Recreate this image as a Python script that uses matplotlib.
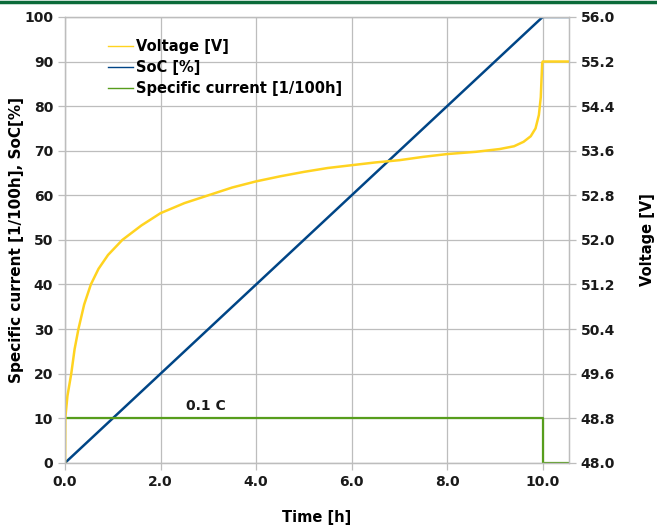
import numpy as np
import matplotlib
matplotlib.use('Agg')
import matplotlib.pyplot as plt
from matplotlib.lines import Line2D

plt.rcParams['font.family'] = ['DejaVu Sans']
plt.rcParams['font.weight'] = 'bold'

# Voltage curve, time in h, voltage in V
volt_t = [0.0, 0.005, 0.05, 0.13, 0.2, 0.28, 0.4, 0.54, 0.7, 0.9, 1.2, 1.6, 2.0, 2.5, 3.0,
          3.5, 4.0, 4.5, 5.0, 5.5, 6.0, 6.5, 7.0, 7.5, 8.0, 8.6, 9.1, 9.4, 9.6, 9.75,
          9.85, 9.92, 9.96, 9.975, 9.99, 10.0, 10.55]
volt_v = [48.0, 48.8, 49.2, 49.6, 50.04, 50.4, 50.84, 51.2, 51.48, 51.73, 52.0, 52.26, 52.48,
          52.66, 52.8, 52.94, 53.05, 53.14, 53.22, 53.29, 53.34, 53.39, 53.43, 53.49, 53.54,
          53.58, 53.63, 53.68, 53.76, 53.86, 54.0, 54.24, 54.56, 54.88, 55.17, 55.2, 55.2]

# State of charge [%]
soc_t = [0.0, 10.0, 10.55]
soc_v = [0.0, 100.0, 100.0]

# Specific current [1/100h]
cur_t = [0.0, 10.0, 10.0, 10.55]
cur_v = [10.0, 10.0, 0.0, 0.0]

c_volt = '#FFD320'
c_soc = '#004586'
c_cur = '#579D1C'
grid_c = '#bdbdbd'

fig = plt.figure(figsize=(6.57, 5.29), dpi=100)
ax = fig.add_axes([0.099, 0.125, 0.767, 0.843])
ax2 = ax.twinx()

ax.plot(soc_t, soc_v, color=c_soc, lw=1.8, solid_joinstyle='round')
ax.plot(cur_t, cur_v, color=c_cur, lw=1.6)
ax2.plot(volt_t, volt_v, color=c_volt, lw=1.8, solid_joinstyle='round')

ax.set_xlim(0, 10.55)
ax.set_ylim(0, 100)
ax2.set_ylim(48.0, 56.0)
xt = np.arange(0, 10.1, 2.0)
ax.set_xticks(xt)
ax.set_xticklabels([f'{v:.1f}' for v in xt])
ax.set_yticks(np.arange(0, 101, 10))
rt = np.arange(48.0, 56.01, 0.8)
ax2.set_yticks(rt)
ax2.set_yticklabels([f'{v:.1f}' for v in rt])

ax.grid(True, color=grid_c, lw=0.9)
ax.set_axisbelow(True)
for a in (ax, ax2):
    for s in a.spines.values():
        s.set_color(grid_c)
        s.set_linewidth(0.9)
    a.tick_params(colors=grid_c, labelcolor='#1a1a1a', labelsize=10, length=5, width=0.9)

ax.set_xlabel('Time [h]', fontsize=10.5, fontweight='bold', labelpad=15)
ax.set_ylabel('Specific current [1/100h], SoC[%]', fontsize=11, fontweight='bold', labelpad=0)
ax2.set_ylabel('Voltage [V]', fontsize=10.5, fontweight='bold', labelpad=18)

ax.text(2.95, 11.2, '0.1 C', fontsize=10, fontweight='bold', ha='center', va='bottom', color='#1a1a1a')

handles = [Line2D([], [], color=c_volt, lw=1), Line2D([], [], color=c_soc, lw=1),
           Line2D([], [], color=c_cur, lw=1)]
ax.legend(handles, ['Voltage [V]', 'SoC [%]', 'Specific current [1/100h]'],
          loc='upper left', bbox_to_anchor=(0.059, 0.98), frameon=False,
          handlelength=1.7, handletextpad=0.2, labelspacing=0.4,
          prop={'weight': 'bold', 'size': 10.5})

fig.add_artist(Line2D([0, 1], [0.997, 0.997], transform=fig.transFigure, color='#0b6b3a', lw=2.5))

fig.savefig('out.png', dpi=100)
